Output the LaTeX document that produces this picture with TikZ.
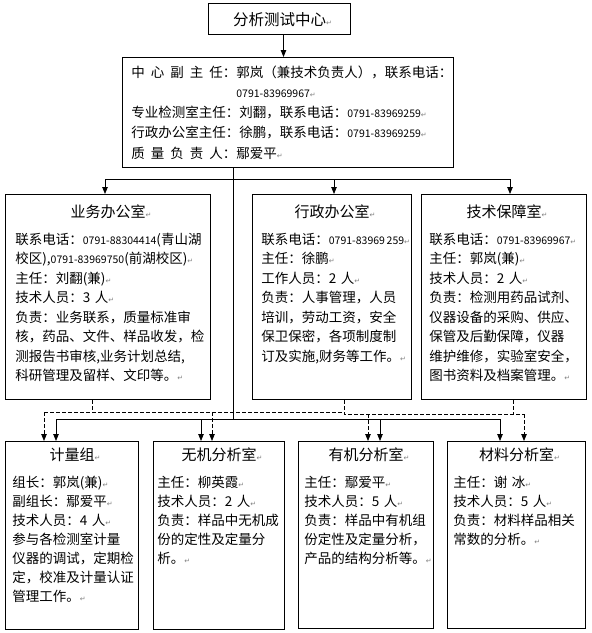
\documentclass[tikz,border=0pt]{standalone}
\usepackage{fontspec}
\setmainfont{Noto Sans CJK SC}
\newfontfamily\retfont{DejaVu Sans}
\usetikzlibrary{arrows.meta}
\newcommand\pmk{{\retfont\fontsize{7}{7}\selectfont\color{gray}↵}}
\newcommand\tel[1]{\mbox{\fontsize{10.5}{11}\selectfont #1}}
\newcommand\gp{\hspace{6pt}}

\begin{document}
\begin{tikzpicture}[x=1pt,y=-1pt,>={Triangle[width=5.5pt,length=7pt]},line width=0.8pt,
  box/.style={draw,line width=1pt,anchor=north west,inner sep=0pt},
  head/.style={font=\fontsize{15}{18}\selectfont,anchor=base,inner sep=0pt},
  body/.style={font=\fontsize{13.5}{19.5}\selectfont,anchor=base west,align=left,inner sep=0pt},
  link/.style={dash pattern=on 3.5pt off 2.5pt}]
  \useasboundingbox (0,0) rectangle (592,633);

  \node[box,minimum width=142pt,minimum height=31pt]  (centre)    at (208,3)   {};
  \node[box,minimum width=331pt,minimum height=110pt] (deputy)    at (122,57)  {};
  \node[box,minimum width=205pt,minimum height=205pt] (yewu)      at (5,194)   {};
  \node[box,minimum width=159pt,minimum height=205pt] (xingzheng) at (252,194) {};
  \node[box,minimum width=165pt,minimum height=205pt] (jishu)     at (421,194) {};
  \node[box,minimum width=133pt,minimum height=188pt] (jiliang)   at (5,441)   {};
  \node[box,minimum width=131pt,minimum height=188pt] (wuji)      at (153,441) {};
  \node[box,minimum width=135pt,minimum height=187pt] (youji)     at (298,441) {};
  \node[box,minimum width=138pt,minimum height=187pt] (cailiao)   at (447,441) {};

  \node[head,font=\fontsize{15.5}{18}\selectfont] (centre-h) at ([yshift=-22.5pt]centre.north) {分析测试中心\rlap{\pmk}};
  \node[body,text width=320pt] (deputy-b) at ([shift={(9pt,-20pt)}]deputy.north west)
    {\baselineskip=20.25pt
     中\gp 心\gp 副\gp 主\gp 任：郭岚（兼技术负责人），联系电话：\\
     \hspace*{105pt}\tel{0791-83969967}\pmk\\
     专业检测室主任：刘翻，联系电话：\tel{0791-83969259}\pmk\\
     行政办公室主任：徐鹏，联系电话：\tel{0791-83969259}\pmk\\
     质\gp 量\gp 负\gp 责\gp 人：鄢爱平\pmk\par};

  \node[head] (yewu-h)      at ([yshift=-23.5pt]yewu.north)      {业务办公室\rlap{\pmk}};
  \node[head] (xingzheng-h) at ([yshift=-23.5pt]xingzheng.north) {行政办公室\rlap{\pmk}};
  \node[head] (jishu-h)     at ([yshift=-23.5pt]jishu.north)     {技术保障室\rlap{\pmk}};
  \node[head] (jiliang-h)   at ([yshift=-19.5pt]jiliang.north)   {计量组\rlap{\pmk}};
  \node[head] (wuji-h)      at ([yshift=-19.5pt]wuji.north)      {无机分析室\rlap{\pmk}};
  \node[head] (youji-h)     at ([yshift=-19.5pt]youji.north)     {有机分析室\rlap{\pmk}};
  \node[head] (cailiao-h)   at ([yshift=-19.5pt]cailiao.north)   {材料分析室\rlap{\pmk}};

  \node[body,text width=195pt] (yewu-b) at ([shift={(10pt,-50pt)}]yewu.north west)
    {联系电话：\tel{0791-88304414}(青山湖\\
     校区),\tel{0791-83969750}(前湖校区)\pmk\\
     主任：刘翻(兼)\pmk\\
     技术人员：3 人\pmk\\
     负责：业务联系，质量标准审\\
     核，药品、文件、样品收发，检\\
     测报告书审核,业务计划总结,\\
     科研管理及留样、文印等。\pmk};
  \node[body,text width=150pt] (xingzheng-b) at ([shift={(9pt,-50pt)}]xingzheng.north west)
    {联系电话：\tel{0791-83969\,259}\pmk\\
     主任：徐鹏\pmk\\
     工作人员：2 人\pmk\\
     负责：人事管理，人员\\
     培训，劳动工资，安全\\
     保卫保密，各项制度制\\
     订及实施,财务等工作。\pmk};
  \node[body,text width=157pt] (jishu-b) at ([shift={(8pt,-50pt)}]jishu.north west)
    {联系电话：\tel{0791-83969967}\pmk\\
     主任：郭岚(兼)\pmk\\
     技术人员：2 人\pmk\\
     负责：检测用药品试剂、\\
     仪器设备的采购、供应、\\
     保管及后勤保障，仪器\\
     维护维修，实验室安全，\\
     图书资料及档案管理。\pmk};
  \node[body,text width=126pt,font=\fontsize{13.5}{19}\selectfont] (jiliang-b) at ([shift={(7pt,-46pt)}]jiliang.north west)
    {组长：郭岚(兼)\pmk\\
     副组长：鄢爱平\pmk\\
     技术人员：4 人\pmk\\
     参与各检测室计量\\
     仪器的调试，定期检\\
     定，校准及计量认证\\
     管理工作。\pmk};
  \node[body,text width=127pt,font=\fontsize{13.5}{19}\selectfont] (wuji-b) at ([shift={(4pt,-46pt)}]wuji.north west)
    {主任：柳英霞\pmk\\
     技术人员：2 人\pmk\\
     负责：样品中无机成\\
     份的定性及定量分\\
     析。\pmk};
  \node[body,text width=129pt,font=\fontsize{13.5}{19}\selectfont] (youji-b) at ([shift={(6pt,-46pt)}]youji.north west)
    {主任：鄢爱平\pmk\\
     技术人员：5 人\pmk\\
     负责：样品中有机组\\
     份定性及定量分析，\\
     产品的结构分析等。\pmk};
  \node[body,text width=132pt,font=\fontsize{13.5}{19}\selectfont] (cailiao-b) at ([shift={(6pt,-46pt)}]cailiao.north west)
    {主任：谢 冰\pmk\\
     技术人员：5 人\pmk\\
     负责：材料样品相关\\
     常数的分析。\pmk};

  \draw[->] ([xshift=4pt]centre.south) -- ([xshift=4pt]centre.south |- deputy.north);

  \coordinate (trunk) at (233,419);
  \coordinate (busl)  at (105,179);
  \coordinate (busm)  at (334,179);
  \coordinate (busr)  at (510,179);
  \draw (deputy.south -| trunk) -- (trunk);
  \draw (busl) -- (busr);
  \draw[->] (busl) -- (busl |- yewu.north);
  \draw[->] (busm) -- (busm |- xingzheng.north);
  \draw[->] (busr) -- (busr |- jishu.north);

  \coordinate (s1) at (56,419);
  \coordinate (s2) at (201,419);
  \coordinate (s3) at (380,419);
  \coordinate (s4) at (500,419);
  \draw (s1) -- (s4);
  \draw[->] (s1) -- (s1 |- jiliang.north);
  \draw[->] (s2) -- (s2 |- wuji.north);
  \draw[->] (s3) -- (s3 |- youji.north);
  \draw[->] (s4) -- (s4 |- cailiao.north);

  \coordinate (d0) at (92,412);
  \coordinate (d1) at (44,412);
  \coordinate (d2) at (212,412);
  \coordinate (dm) at (344,412);
  \coordinate (dn) at (344,414);
  \coordinate (d3) at (368,414);
  \coordinate (dr) at (513,414);
  \coordinate (d4) at (524,414);
  \draw[link] (d1) -- (dm) -- (dn) -- (d4);
  \draw[link] (yewu.south -| d0) -- (d0);
  \draw[link] (xingzheng.south -| dm) -- (dm);
  \draw[link] (jishu.south -| dr) -- (dr);
  \draw[link,->] (d1) -- (d1 |- jiliang.north);
  \draw[link,->] (d2) -- (d2 |- wuji.north);
  \draw[link,->] (d3) -- (d3 |- youji.north);
  \draw[link,->] (d4) -- (d4 |- cailiao.north);
\end{tikzpicture}
\end{document}
